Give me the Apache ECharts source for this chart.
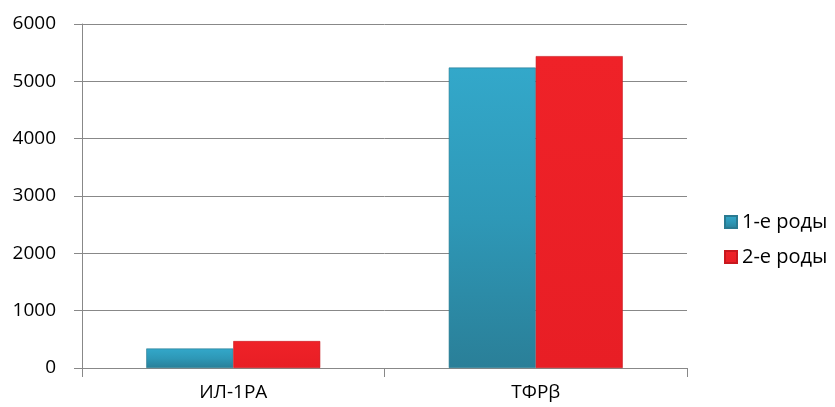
<!DOCTYPE html>
<html>
<head>
<meta charset="utf-8">
<script src="https://cdn.jsdelivr.net/npm/echarts@6/dist/echarts.min.js"></script>
<style>
  html, body { margin: 0; padding: 0; background: #fff; }
  #chart { width: 835px; height: 407px; }
</style>
</head>
<body>
<div id="chart"></div>
<script>
// Cytokine levels by delivery number
const categories = ['ИЛ-1РА', 'ТФРβ'];
const seriesNames = ['1-е роды', '2-е роды'];
const firstBirth = [340, 5240];
const secondBirth = [470, 5440];

const chart = echarts.init(document.getElementById('chart'), null, { renderer: 'canvas' });

const font = '"Open Sans", "Noto Sans", sans-serif';

const blueFill = new echarts.graphic.LinearGradient(0, 0, 0, 1, [
  { offset: 0, color: '#33a8ca' },
  { offset: 0.5, color: '#2e98b7' },
  { offset: 1, color: '#2a7f98' }
]);
const redFill = new echarts.graphic.LinearGradient(0, 0, 0, 1, [
  { offset: 0, color: '#ef2228' },
  { offset: 1, color: '#e81e25' }
]);

chart.setOption({
  animation: false,
  backgroundColor: '#ffffff',
  grid: { left: 82, right: 148, top: 24, bottom: 39, containLabel: false },
  legend: {
    orient: 'vertical',
    left: 719,
    top: 207,
    itemWidth: 12,
    itemHeight: 12,
    itemGap: 15,
    icon: 'rect',
    textStyle: { fontFamily: font, fontSize: 20, color: '#000' },
    data: seriesNames
  },
  xAxis: {
    type: 'category',
    data: categories,
    axisLine: { lineStyle: { color: '#888', width: 1 } },
    axisTick: { show: true, length: 9, lineStyle: { color: '#888' } },
    axisLabel: { fontFamily: font, fontSize: 19, color: '#000', margin: 15 }
  },
  yAxis: {
    type: 'value',
    min: 0,
    max: 6000,
    interval: 1000,
    axisLine: { show: true, lineStyle: { color: '#888', width: 1 } },
    axisTick: { show: true, length: 8, lineStyle: { color: '#888' } },
    axisLabel: {
      fontFamily: font, fontSize: 19, color: '#000', margin: 26,
      formatter: (v) => String(v)
    },
    splitLine: { lineStyle: { color: '#888', width: 1 } }
  },
  series: [
    {
      name: seriesNames[0],
      type: 'bar',
      data: firstBirth,
      barWidth: 87,
      barGap: '0%',
      itemStyle: { color: blueFill, borderColor: '#2a7a91', borderWidth: 0.6 }
    },
    {
      name: seriesNames[1],
      type: 'bar',
      data: secondBirth,
      barWidth: 87,
      barGap: '0%',
      itemStyle: { color: redFill, borderColor: '#c8181e', borderWidth: 0.6 }
    }
  ]
});
</script>
</body>
</html>
